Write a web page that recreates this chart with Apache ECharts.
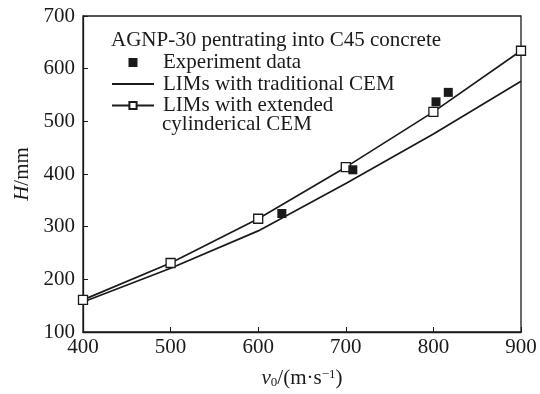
<!DOCTYPE html>
<html><head><meta charset="utf-8">
<script src="https://cdn.jsdelivr.net/npm/echarts@6/dist/echarts.min.js"></script>
<style>html,body{margin:0;padding:0;background:#fff}#c{width:540px;height:394px}</style>
</head><body><div id="c"></div>
<script>
const velocities = [400, 500, 600, 700, 800, 900];
const traditionalCEM = [157, 221, 292, 382, 476, 576];
const extendedCEM = [161, 231, 315, 413, 518, 634];
const experimentV = [627, 708, 803, 817];
const experimentH = [325, 408, 537, 555];
const xTicks = [400, 500, 600, 700, 800, 900];
const yTicks = [100, 200, 300, 400, 500, 600, 700];

const FONT = '"Liberation Serif", "Times New Roman", serif';
const INK = '#1a1a1a';
const FS = 21;
const chart = echarts.init(document.getElementById('c'), null, {renderer: 'canvas'});
chart.setOption({
  backgroundColor: '#fff',
  animation: false,
  textStyle: {fontFamily: FONT, color: INK},
  title: {
    text: 'AGNP-30 pentrating into C45 concrete',
    left: 106, top: 25,
    textStyle: {fontFamily: FONT, fontSize: FS, lineHeight: 21, fontWeight: 'normal', color: INK}
  },
  legend: {
    orient: 'vertical', left: 106, top: 47,
    itemWidth: 42, itemHeight: 9, itemGap: 0.5,
    symbolKeepAspect: true,
    textStyle: {fontFamily: FONT, fontSize: FS, lineHeight: 21, color: INK, padding: [0,0,0,4]},
    data: [
      {name: 'Experiment data', icon: 'path://M0,0H10V10H0Z', itemStyle: {color: INK, opacity: 1}},
      {name: 'LIMs with traditional CEM', itemStyle: {opacity: 0}},
      {name: 'LIMs with extended'}
    ]
  },
  graphic: [{
    type: 'text', left: 162, top: 114,
    style: {text: 'cylinderical CEM', font: FS + 'px ' + FONT, fill: INK}
  }],
  grid: {left: 83, right: 19, top: 16, bottom: 60, show: true, borderColor: INK, borderWidth: 1.3},
  xAxis: {
    type: 'value', min: 400, max: 900, interval: 100,
    axisLine: {lineStyle: {color: INK, width: 1.3}},
    axisTick: {inside: true, length: 5, lineStyle: {color: INK}},
    splitLine: {show: false},
    axisLabel: {fontFamily: FONT, fontSize: FS, color: INK, margin: 5},
    name: '{i|v}{sub|0}{t|/(m·s}{sup|−1}{t|)}',
    nameLocation: 'middle', nameGap: 36,
    nameTextStyle: {
      fontFamily: FONT, fontSize: FS, color: INK,
      rich: {
        i: {fontFamily: FONT, fontStyle: 'italic', fontSize: FS, color: INK},
        t: {fontFamily: FONT, fontSize: FS, color: INK},
        sub: {fontFamily: FONT, fontSize: 13, color: INK, verticalAlign: 'bottom', padding: [8,0,0,0]},
        sup: {fontFamily: FONT, fontSize: 13, color: INK, verticalAlign: 'top', padding: [0,0,8,0]}
      }
    }
  },
  yAxis: {
    type: 'value', min: 100, max: 700, interval: 100,
    axisLine: {show: true, lineStyle: {color: INK, width: 1.3}},
    axisTick: {show: true, inside: true, length: 5, lineStyle: {color: INK}},
    splitLine: {show: false},
    axisLabel: {fontFamily: FONT, fontSize: FS, color: INK, margin: 8},
    name: '{i|H}{t|/mm}',
    nameLocation: 'middle', nameGap: 50, nameRotate: 90,
    nameTextStyle: {
      fontFamily: FONT, fontSize: FS, color: INK,
      rich: {
        i: {fontFamily: FONT, fontStyle: 'italic', fontSize: FS, color: INK},
        t: {fontFamily: FONT, fontSize: FS, color: INK}
      }
    }
  },
  series: [
    {
      name: 'Experiment data', type: 'scatter',
      symbol: 'rect', symbolSize: 9,
      itemStyle: {color: INK, opacity: 1},
      data: experimentV.map((v, i) => [v, experimentH[i]]),
      z: 5
    },
    {
      name: 'LIMs with traditional CEM', type: 'line',
      showSymbol: false, symbol: 'none', smooth: false,
      lineStyle: {color: INK, width: 1.7},
      itemStyle: {color: INK},
      data: velocities.map((v, i) => [v, traditionalCEM[i]])
    },
    {
      name: 'LIMs with extended', type: 'line',
      symbol: 'rect', symbolSize: 9, showSymbol: true, smooth: false,
      lineStyle: {color: INK, width: 1.7},
      itemStyle: {color: '#fff', borderColor: INK, borderWidth: 1.3},
      data: velocities.map((v, i) => [v, extendedCEM[i]]),
      z: 4
    }
  ]
});
</script></body></html>
